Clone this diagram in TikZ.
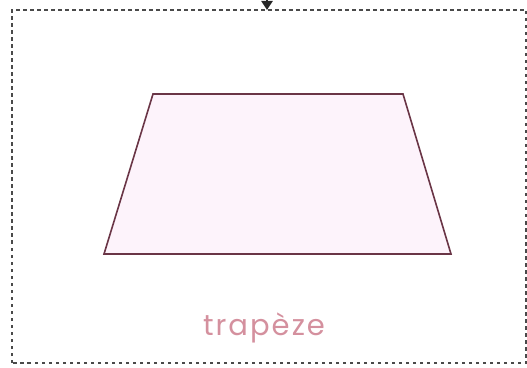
\documentclass[tikz,border=0pt]{standalone}
\usepackage{fontspec}
\newfontfamily\labelfont[LetterSpace=7]{Poppins}
\usepackage{tikz}
\usetikzlibrary{calc}
\usetikzlibrary{arrows.meta}

\definecolor{shapeline}{HTML}{6A3546}
\definecolor{shapefill}{HTML}{FDF3FB}
\definecolor{labelpink}{HTML}{D4909E}
\definecolor{framegray}{HTML}{4A4A4A}

\begin{document}
\begin{tikzpicture}[x = 1pt, y = 1pt]

\tikzstyle{frame_box}=[draw=framegray, line width = 1.6, dash pattern = on 3.5pt off 3.5pt]
\tikzstyle{shape_q}=[draw=shapeline, fill=shapefill, line width = 1.6, line join = miter]
\tikzstyle{word_l}=[text=labelpink, font=\labelfont\fontsize{29}{32}\selectfont]

\useasboundingbox (0, 0) rectangle (527, 367);

\coordinate (F1) at (12, 4);
\coordinate (F2) at (526, 357);
\coordinate (A) at (104, 113);
\coordinate (B) at (451, 113);
\coordinate (C) at (403, 273);
\coordinate (D) at (153, 273);
\coordinate (top) at (267, 380);
\coordinate (W) at (264, 39);

% frame
\draw[frame_box] (F1) rectangle (F2);

% trapeze
\draw[shape_q] (A) -- (B) -- (C) -- (D) -- cycle;

\path
($(W)$) node[word_l](word) {trapèze};

%arrow
\draw[-{Triangle[width=11pt, length=9pt]}, line width = 2.5, color = black!85] (top) to (267, 357);

\end{tikzpicture}
\end{document}
